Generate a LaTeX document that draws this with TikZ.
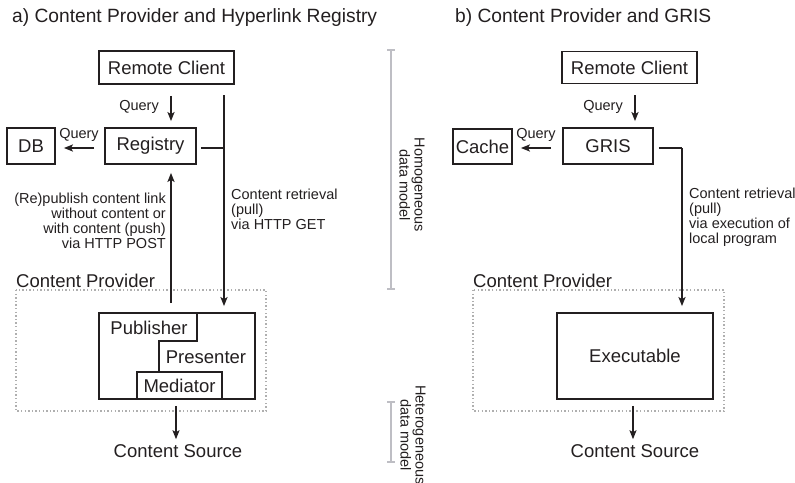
\documentclass[tikz,border=0pt]{standalone}
\usepackage{fontspec}
\setmainfont{Liberation Sans}
\usetikzlibrary{arrows.meta,calc}
\definecolor{ink}{RGB}{35,31,32}
\definecolor{brk}{RGB}{190,190,196}
\definecolor{dotc}{RGB}{175,175,175}
\newcommand\bigf{\fontsize{18.5}{22}\selectfont}
\newcommand\smallf{\fontsize{14.5}{15}\selectfont}
\newcommand\titlef{\fontsize{19.2}{22}\selectfont}
\tikzset{
  box/.style={draw=ink, line width=1.8pt, inner sep=0pt, font=\bigf, text=ink},
  lbl/.style={inner sep=0pt, font=\bigf, text=ink},
  slbl/.style={inner sep=0pt, font=\smallf, text=ink},
  conn/.style={draw=ink, line width=1.7pt},
  arr/.style={conn, -{Stealth[length=9pt,width=7pt,inset=2pt]}},
  bracket/.style={draw=brk, line width=1.4pt},
  provider/.style={draw=dotc, line width=1.2pt, dash pattern=on 1.4pt off 2.2pt},
}
\begin{document}
\begin{tikzpicture}[x=1pt,y=-1pt]
\useasboundingbox (0,0) rectangle (795,482);

% ---------- titles ----------
\node[lbl, font=\titlef, anchor=west] (titA) at (12,18) {a) Content Provider and Hyperlink Registry};
\node[lbl, font=\titlef, anchor=west] (titB) at (455,18) {b) Content Provider and GRIS};

% ---------- part a ----------
\node[box, minimum width=135pt, minimum height=33pt] (rcA) at (166.5,67.5) {Remote Client};
\node[box, minimum width=91pt, minimum height=36pt] (reg) at (150.5,146) {Registry};
\node[box, minimum width=48pt, minimum height=36pt] (db) at (31,146) {DB};

\node[slbl, anchor=east] (qA1) at (159,107) {Query};
\draw[arr] ($(rcA.south)+(4.5,11)$) -- ($(reg.north)+(20.5,-6)$);

\node[slbl] (qA2) at (79,135) {Query};
\draw[arr] ($(reg.west)+(-10,2)$) -- ($(db.east)+(8,2)$);

\node[lbl, anchor=west] (cpAl) at (16,281) {Content Provider};
\draw[provider] (16,290) rectangle (266,411);

\node[box, minimum width=156pt, minimum height=86pt] (cpA) at (177,356) {};
\draw[conn, line width=1.8pt, line cap=rect] (197,313) |- (159,341) -- (159,372);
\node[box, minimum width=85pt, minimum height=27pt] (med) at (179.5,385.5) {Mediator};
\node[lbl] (pub) at (149,328) {Publisher};
\node[lbl] (pres) at (206,357) {Presenter};

% retrieval line
\coordinate (vtA) at (224,95);
\draw[conn] ($(reg.east)+(4,2)$) -- (vtA |- 0,148);
\draw[arr] (vtA) -- ($(cpA.north)+(47,-6)$);
\node[slbl, anchor=north west, align=left] (retA) at (231,188.5) {Content retrieval\\(pull)\\via HTTP GET};

% publish
\draw[arr] ($(cpA.north)+(-6,-9)$) -- ($(reg.south)+(20.5,8)$);
\node[slbl, anchor=north east, align=right] (pubt) at (166,192.5) {(Re)publish content link\\without content or\\with content (push)\\via HTTP POST};

\node[lbl] (csA) at (178,451) {Content Source};
\draw[arr] ($(cpA.south)+(-1,6)$) -- ($(csA.north)+(-2,-5)$);

% ---------- middle brackets ----------
\draw[bracket] (387,50) -- (395,50) (391,50) -- (391,289) (387,289) -- (395,289);
\node[slbl, rotate=-90, align=center] (homo) at (412,185) {Homogeneous\\data model};
\draw[bracket] (387,402) -- (395,402) (391,402) -- (391,462) (387,462) -- (395,462);
\node[slbl, rotate=-90, align=center] (hete) at (413,435) {Heterogeneous\\data model};

% ---------- part b ----------
\node[box, minimum width=135pt, minimum height=32pt] (rcB) at (629.5,67.5) {Remote Client};
\node[box, minimum width=90pt, minimum height=36pt] (gris) at (608,146) {GRIS};
\node[box, minimum width=59pt, minimum height=35pt] (cache) at (482.5,146.5) {Cache};

\node[slbl, anchor=east] (qB1) at (623,107) {Query};
\draw[arr] ($(rcB.south)+(5.5,11)$) -- ($(gris.north)+(27,-6)$);

\node[slbl] (qB2) at (536,135) {Query};
\draw[arr] ($(gris.west)+(-11,2)$) -- ($(cache.east)+(8,1.5)$);

\node[lbl, anchor=west] (cpBl) at (473,281) {Content Provider};
\draw[provider] (473,290) rectangle (724,411);

\node[box, minimum width=156pt, minimum height=86pt] (exe) at (635,356) {Executable};

\coordinate (vtB) at (682,148);
\draw[conn] ($(gris.east)+(5,2)$) -- (vtB);
\draw[arr] (vtB) -- ($(exe.north)+(47,-6)$);
\node[slbl, anchor=north west, align=left] (retB) at (689,187.5) {Content retrieval\\(pull)\\via execution of\\local program};

\node[lbl] (csB) at (635,451) {Content Source};
\draw[arr] ($(exe.south)+(-2,6)$) -- ($(csB.north)+(-2,-5)$);
\end{tikzpicture}
\end{document}
